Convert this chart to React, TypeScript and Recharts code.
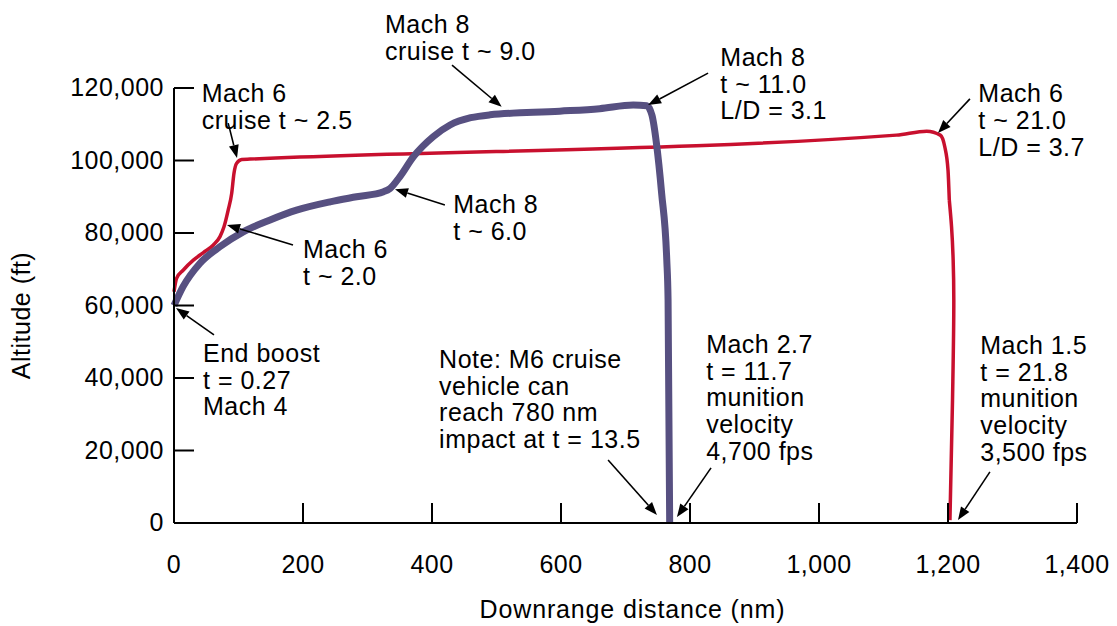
import React from 'react';
import { LineChart, Line, XAxis, YAxis, ReferenceLine, ReferenceDot } from 'recharts';

const FONT = '"Liberation Sans", Arial, Helvetica, sans-serif';
const FS = 25;
const LS = 0.5;
const LINE_H = 26.7;

const xTicks = [0, 200, 400, 600, 800, 1000, 1200, 1400];
const yTicks = [0, 20000, 40000, 60000, 80000, 100000, 120000];

// Mach 8 cruise trajectory (purple)
const mach8Distance = [0, 14, 40, 71, 108, 149, 190, 242, 283, 325, 335, 350, 371, 402, 428, 460, 490, 598, 660, 712, 733, 741, 748, 756, 764, 766, 768.5];
const mach8Altitude = [60000, 65200, 71600, 76200, 80400, 83600, 86300, 88600, 90000, 91400, 92300, 95500, 101000, 106600, 109800, 111800, 112600, 113600, 114300, 115300, 115100, 112500, 104700, 91000, 72500, 61500, 0];

// Mach 6 cruise trajectory (red): climb + cruise
const mach6Distance = [0, 4, 14.5, 30, 45.5, 61, 71.3, 77.5, 84, 89.5, 93, 97, 105, 118, 1120, 1167, 1188, 1195, 1200, 1202];
const mach6Altitude = [63800, 67500, 69800, 72500, 74600, 76700, 79000, 81700, 86300, 91000, 96500, 99200, 100300, 100400, 107000, 108100, 107000, 103800, 97400, 89100];
// Mach 6 cruise trajectory (red): terminal dive
const mach6DiveDistance = [1202, 1205.5, 1208, 1209, 1207, 1203];
const mach6DiveAltitude = [89100, 81700, 72500, 61500, 33900, 800];

const mach8Data = mach8Distance.map((x, i) => ({ x, y: mach8Altitude[i] }));
const mach6Data = mach6Distance.map((x, i) => ({ x, y: mach6Altitude[i] }));
const mach6DiveData = mach6DiveDistance.map((x, i) => ({ x, y: mach6DiveAltitude[i] }));

// Annotation text blocks: anchor at first baseline, left aligned (data units)
const noteLines = [
  ['Mach 8', 'cruise t ~ 9.0'],
  ['Mach 8', 't ~ 11.0', 'L/D = 3.1'],
  ['Mach 6', 't ~ 21.0', 'L/D = 3.7'],
  ['Mach 6', 'cruise t ~ 2.5'],
  ['Mach 8', 't ~ 6.0'],
  ['Mach 6', 't ~ 2.0'],
  ['End boost', 't = 0.27', 'Mach 4'],
  ['Note: M6 cruise', 'vehicle can', 'reach 780 nm', 'impact at t = 13.5'],
  ['Mach 2.7', 't = 11.7', 'munition', 'velocity', '4,700 fps'],
  ['Mach 1.5', 't = 21.8', 'munition', 'velocity', '3,500 fps'],
];
const noteX = [327, 847, 1247, 43, 433, 200, 45, 411, 825, 1250];
const noteY = [135200, 126100, 116100, 116100, 85500, 73100, 44400, 42800, 46900, 46600];

// Arrows: from (tail) -> to (head), data units
const arrowFromX = [431, 828, 1234, 84, 420, 184.5, 62, 673, 832.6, 1265];
const arrowFromY = [126300, 124100, 117000, 110300, 87700, 76700, 51900, 17400, 15200, 14100];
const arrowToX = [508, 735, 1184.5, 97.7, 342.6, 82.2, 3.1, 748.8, 779.8, 1215.5];
const arrowToY = [114800, 115300, 107600, 100700, 92100, 82200, 59300, 2200, 1650, 830];

const fmt = (v: number) => v.toLocaleString('en-US');

const textStyle = { fontFamily: FONT, fontSize: FS, letterSpacing: LS, fill: '#000' } as const;

const XTick = (props: any) => {
  const { x, y, payload } = props;
  return (
    <g>
      <line x1={x} y1={y} x2={x} y2={y - 20} stroke="#000" strokeWidth={2} />
      <text x={x} y={y + 50} textAnchor="middle" {...textStyle}>
        {fmt(payload.value)}
      </text>
    </g>
  );
};

const YTick = (props: any) => {
  const { x, y, payload } = props;
  return (
    <g>
      <line x1={x} y1={y} x2={x + 20} y2={y} stroke="#000" strokeWidth={2} />
      <text x={x - 10} y={y + 8} textAnchor="end" {...textStyle}>
        {fmt(payload.value)}
      </text>
    </g>
  );
};

const Arrow = (p: any) => {
  const { x1, y1, x2, y2 } = p;
  const ang = Math.atan2(y2 - y1, x2 - x1);
  const L = 13;
  const W = 5;
  const bx = x2 - L * Math.cos(ang);
  const by = y2 - L * Math.sin(ang);
  const px = -Math.sin(ang) * W;
  const py = Math.cos(ang) * W;
  return (
    <g>
      <line x1={x1} y1={y1} x2={bx} y2={by} stroke="#000" strokeWidth={1.6} />
      <polygon points={`${x2},${y2} ${bx + px},${by + py} ${bx - px},${by - py}`} fill="#000" />
    </g>
  );
};

const makeNote = (lines: string[]) => (p: any) => (
  <text x={p.cx} y={p.cy} {...textStyle}>
    {lines.map((l, i) => (
      <tspan key={i} x={p.cx} dy={i === 0 ? 0 : LINE_H}>
        {l}
      </tspan>
    ))}
  </text>
);

export default function App() {
  return (
    <div style={{ position: 'absolute', left: 0, top: 0, background: '#fff' }}>
      <LineChart width={1117} height={626} margin={{ top: 88, right: 40, bottom: 0, left: 0 }}>
        <XAxis
          type="number"
          dataKey="x"
          domain={[0, 1400]}
          ticks={xTicks}
          interval={0}
          tickSize={0}
          tickMargin={0}
          tickLine={false}
          height={103}
          axisLine={{ stroke: '#000', strokeWidth: 2 }}
          tick={<XTick />}
          label={{
            content: (lp: any) => {
              const vb = lp.viewBox || {};
              return (
                <text
                  x={vb.x + vb.width / 2 + 7}
                  y={vb.y + 95}
                  textAnchor="middle"
                  {...textStyle}
                  letterSpacing={0.85}
                >
                  Downrange distance (nm)
                </text>
              );
            },
          }}
        />
        <YAxis
          type="number"
          domain={[0, 120000]}
          ticks={yTicks}
          interval={0}
          tickSize={0}
          tickMargin={0}
          tickLine={false}
          width={174}
          axisLine={{ stroke: '#000', strokeWidth: 2 }}
          tick={<YTick />}
          label={{
            content: (lp: any) => {
              const vb = lp.viewBox || {};
              const cx = vb.x + 30;
              const cy = vb.y + vb.height / 2 + 10;
              return (
                <text x={cx} y={cy} textAnchor="middle" transform={`rotate(-90 ${cx} ${cy})`} {...textStyle}>
                  Altitude (ft)
                </text>
              );
            },
          }}
        />
        <Line
          data={mach6Data}
          dataKey="y"
          type="monotone"
          stroke="#c8102e"
          strokeWidth={3.5}
          dot={false}
          activeDot={false}
          isAnimationActive={false}
        />
        <Line
          data={mach6DiveData}
          dataKey="y"
          type="monotoneY"
          stroke="#c8102e"
          strokeWidth={3.5}
          dot={false}
          activeDot={false}
          isAnimationActive={false}
        />
        <Line
          data={mach8Data}
          dataKey="y"
          type="monotone"
          stroke="#575081"
          strokeWidth={7}
          dot={false}
          activeDot={false}
          isAnimationActive={false}
        />
        {arrowFromX.map((fx, i) => (
          <ReferenceLine
            key={`a${i}`}
            segment={[
              { x: fx, y: arrowFromY[i] },
              { x: arrowToX[i], y: arrowToY[i] },
            ]}
            ifOverflow="visible"
            shape={Arrow}
          />
        ))}
        {noteLines.map((lines, i) => (
          <ReferenceDot
            key={`n${i}`}
            x={noteX[i]}
            y={noteY[i]}
            r={0}
            ifOverflow="visible"
            shape={makeNote(lines)}
          />
        ))}
      </LineChart>
    </div>
  );
}
